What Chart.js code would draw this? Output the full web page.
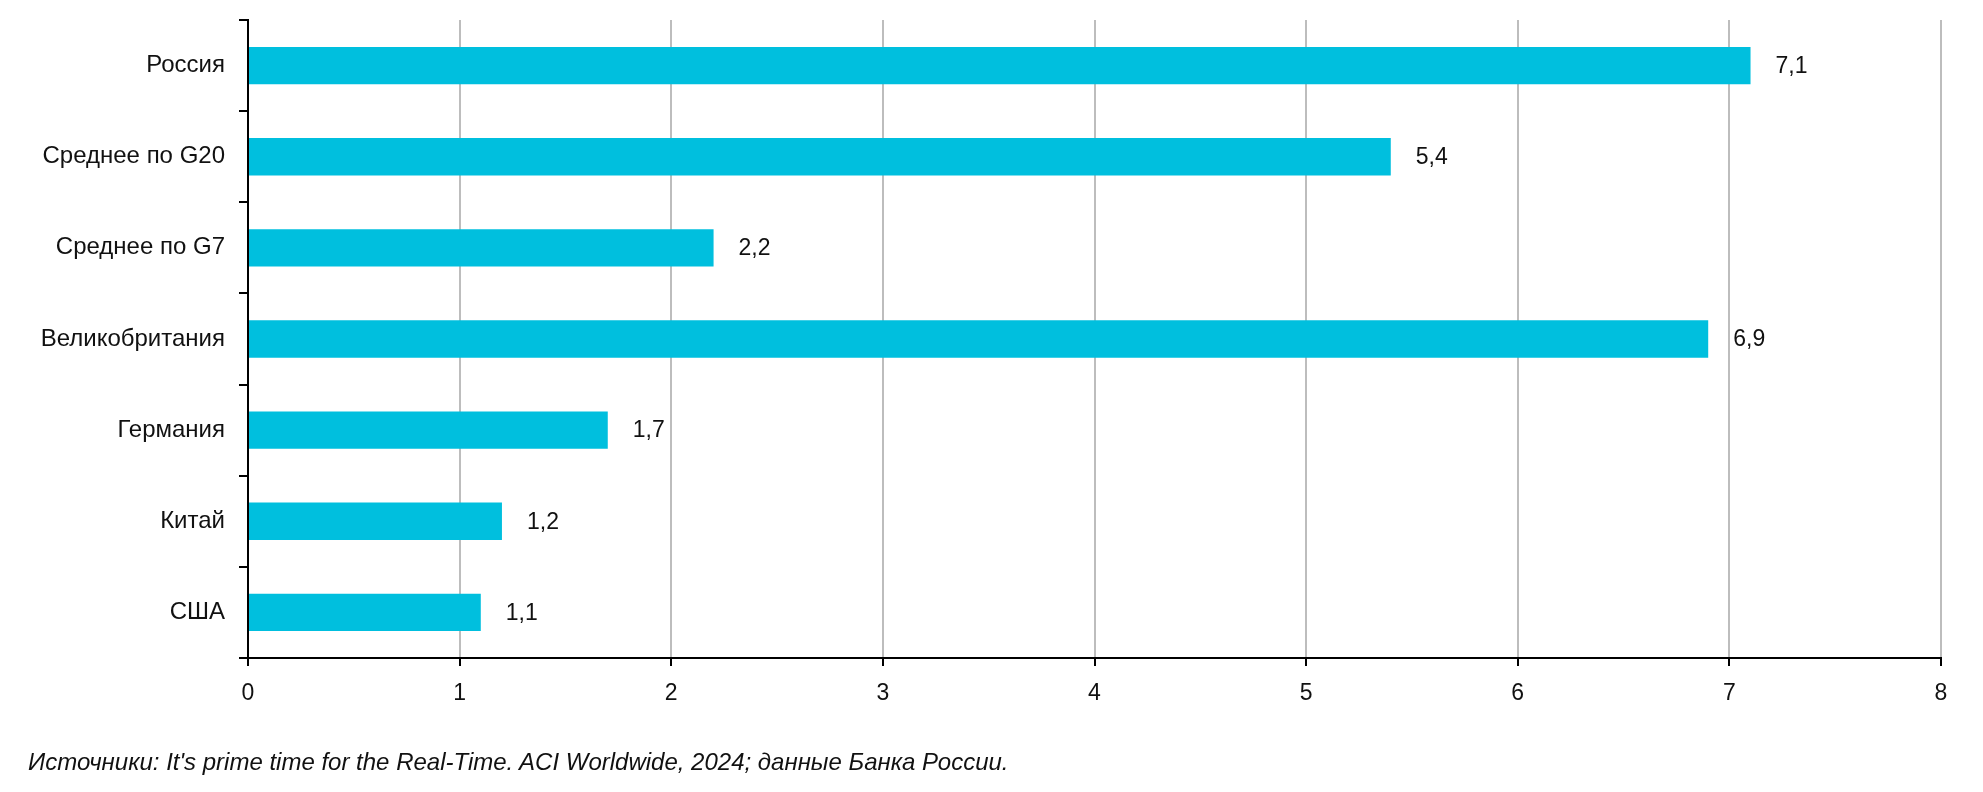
<!DOCTYPE html>
<html>
<head>
<meta charset="utf-8">
<script src="https://cdn.jsdelivr.net/npm/chart.js@4.4.1/dist/chart.umd.min.js"></script>
<style>
  html, body { margin: 0; padding: 0; background: #fff; }
  #wrap { position: relative; width: 1983px; height: 792px; }
  #istochnik {
    position: absolute; left: 28px; top: 748px;
    font: italic 24px "Liberation Sans", Arial, sans-serif;
    color: #111; white-space: nowrap;
  }
</style>
</head>
<body>
<div id="wrap">
  <canvas id="grafica" width="1983" height="792"></canvas>
  <div id="istochnik">Источники: It's prime time for the Real-Time. ACI Worldwide, 2024; данные Банка России.</div>
</div>
<script>
// страны и значения
const strany = ['Россия', 'Среднее по G20', 'Среднее по G7', 'Великобритания', 'Германия', 'Китай', 'США'];
const znacheniya = [7.1, 5.4, 2.2, 6.9, 1.7, 1.2, 1.1];
const xTicks = [0, 1, 2, 3, 4, 5, 6, 7, 8];

const shrift = '"Liberation Sans", Arial, sans-serif';

// подписи значений справа от столбцов
const podpisi = {
    id: 'podpisi',
    afterDatasetsDraw(chart) {
        const ctx = chart.ctx;
        const meta = chart.getDatasetMeta(0);
        ctx.save();
        ctx.font = '23px ' + shrift;
        ctx.fillStyle = '#111';
        ctx.textAlign = 'left';
        ctx.textBaseline = 'middle';
        meta.data.forEach((bar, i) => {
            const txt = znacheniya[i].toFixed(1).replace('.', ',');
            ctx.fillText(txt, bar.x + 25, bar.y + 1);
        });
        ctx.restore();
    }
};

new Chart(document.getElementById('grafica'), {
    type: 'bar',
    data: {
        labels: strany,
        datasets: [{
            data: znacheniya,
            backgroundColor: '#00bfde',
            borderWidth: 0,
            categoryPercentage: 1,
            barPercentage: 0.41
        }]
    },
    options: {
        indexAxis: 'y',
        responsive: false,
        animation: false,
        layout: { padding: { top: 20, right: 42, left: 0, bottom: 0 } },
        plugins: {
            legend: { display: false },
            tooltip: { enabled: false }
        },
        scales: {
            x: {
                min: 0, max: 8,
                afterBuildTicks: s => { s.ticks = xTicks.map(v => ({ value: v })); },
                afterFit: s => { s.height = 134; },
                grid: {
                    color: '#bdbdbd',
                    lineWidth: 2,
                    tickColor: '#000',
                    tickLength: 8,
                    tickWidth: 2
                },
                border: { display: true, color: '#000', width: 2 },
                ticks: {
                    color: '#111',
                    font: { family: shrift, size: 23 },
                    padding: 14
                }
            },
            y: {
                offset: true,
                afterFit: s => {
                    s.width = 248;
                    s.paddingTop = 0;
                    s.paddingBottom = 0;
                },
                grid: {
                    offset: true,
                    drawOnChartArea: false,
                    color: '#000',
                    tickLength: 9,
                    lineWidth: 2
                },
                border: { display: true, color: '#000', width: 2 },
                ticks: {
                    color: '#111',
                    font: { family: shrift, size: 24 },
                    padding: 14
                }
            }
        }
    },
    plugins: [podpisi]
});
</script>
</body>
</html>
